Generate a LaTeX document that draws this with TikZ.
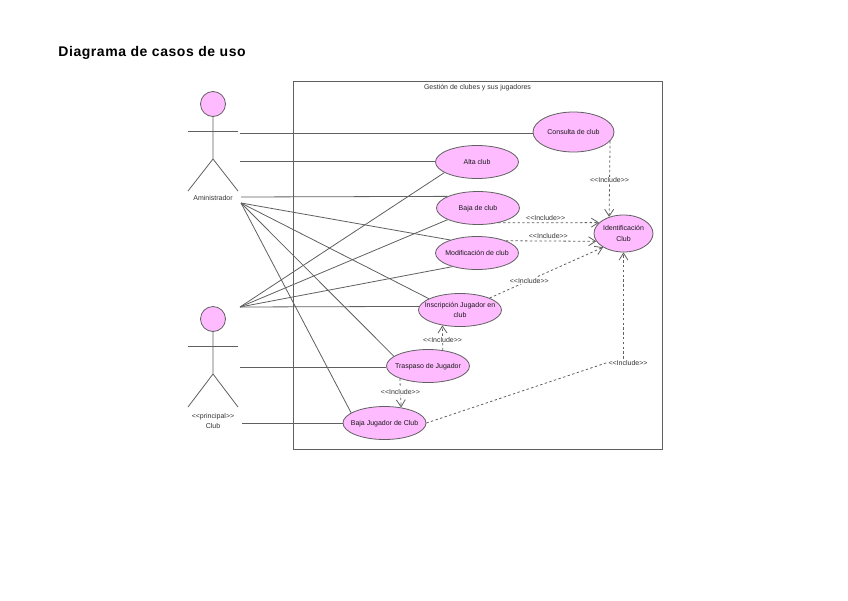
\documentclass[tikz,border=0pt]{standalone}
\usepackage{fontspec}
\setmainfont{Liberation Sans}
\usetikzlibrary{shapes.geometric,arrows.meta}

\definecolor{casefill}{HTML}{FFBBFF}
\definecolor{caseline}{HTML}{606060}
\newcommand{\incl}{<\kern0pt<Include>\kern0pt>}

\begin{document}
\begin{tikzpicture}[x=1pt,y=-1pt,>={Straight Barb[length=7pt,width=9pt]},
  line width=.8pt,draw=caseline,
  use case/.style={ellipse,draw=caseline,fill=casefill,inner xsep=-12pt,inner ysep=-4pt,align=center,
    minimum width=83pt,minimum height=33pt,font=\fontsize{7}{10.5}\selectfont,text=black!90,
    text depth=0pt},
  actor head/.style={circle,draw=caseline,fill=casefill,inner sep=0pt,minimum size=25pt},
  small text/.style={font=\fontsize{7}{10}\selectfont,text=black!80,inner sep=1pt},
  dep/.style={dashed,dash pattern=on 2.4pt off 2.4pt,->},
  inc/.style={small text,fill=white,yshift=-.6pt}]

  \useasboundingbox (0,0) rectangle (848,600);
  \fill[white] (0,0) rectangle (848,600);

  \node[anchor=west,inner sep=0pt,font=\fontsize{14}{16}\bfseries\selectfont] (title) at (58,53)
    {\addfontfeature{LetterSpace=4}Diagrama de casos de uso};

  % system box
  \node[draw=caseline,minimum width=368.5pt,minimum height=367.5pt,inner sep=0pt] (system) at (477.75,265.25) {};
  \node[small text] (systemname) at (477.5,87.5) {Gestión de clubes y sus jugadores};

  % use cases
  \node[use case,minimum width=81pt,minimum height=40pt] (consulta) at (573.5,132) {Consulta de club};
  \node[use case] (alta) at (477,162) {Alta club};
  \node[use case] (baja) at (478,208) {Baja de club};
  \node[use case] (modif) at (477,253) {Modificación de club};
  \node[use case] (inscrip) at (460,310) {Inscripción Jugador en\\club};
  \node[use case] (traspaso) at (428,366) {Traspaso de Jugador};
  \node[use case] (bajajug) at (384.5,423) {Baja Jugador de Club};
  \node[use case,minimum width=59pt,minimum height=37pt] (ident) at (623.5,233.5) {Identificación\\Club};

  % actors
  \node[actor head] (adminhead) at (213,104) {};
  \coordinate (adminneck) at (213,159);
  \draw (adminhead) -- (adminneck) -- (188,191);
  \draw (adminneck) -- (238,191);
  \draw (188,131) -- (238,131);
  \node[small text] (adminname) at (213,197.5) {Aministrador};

  \node[actor head] (clubhead) at (213,319) {};
  \coordinate (clubneck) at (213,374);
  \draw (clubhead) -- (clubneck) -- (188,407);
  \draw (clubneck) -- (238,407);
  \draw (188,346) -- (238,346);
  \node[small text,align=center] (clubname) at (213,420.5) {<\kern0pt<principal>\kern0pt>\\Club};

  % free ends
  \coordinate (a1) at (240,133);
  \coordinate (a2) at (240,161);
  \coordinate (a3) at (241,197);
  \coordinate (a4) at (241,203);
  \coordinate (c1) at (240,307);
  \coordinate (c2) at (240,367);
  \coordinate (c3) at (242,423);

  \path[draw]
    (a1) edge (consulta.west |- a1)
    (a2) edge (alta.west |- a2)
    (a3) edge (baja.159)
    (a4) edge (modif.154)
         edge (inscrip.160)
         edge (traspaso.164)
         edge (bajajug.163)
    (c1) edge (alta.198)
         edge (baja.201)
         edge (modif.209)
         edge (inscrip.175)
    (c2) edge (traspaso.west |- c2)
    (c3) edge (bajajug.west |- c3);

  \node[inc] (incbend) at (628,362) {\incl};

  \path[dep]
    (consulta.-14.5) edge node[inc,pos=.51] {\incl} (ident.131)
    (baja.-36) edge node[small text,pos=.47,above=1pt] {\incl} (ident.156)
    (modif.23) edge node[small text,pos=.47,above=1pt] {\incl} (ident.196)
    (inscrip.22) edge node[inc,pos=.35] {\incl} (ident.214)
    (traspaso.47) edge node[inc,pos=.44] {\incl} (inscrip.221.6)
    (traspaso.204) edge node[inc,pos=.43] {\incl} (bajajug.43.6)
    (bajajug.east) edge[-] (incbend.west)
    (incbend.north -| ident.south) edge (ident.south);
\end{tikzpicture}
\end{document}
